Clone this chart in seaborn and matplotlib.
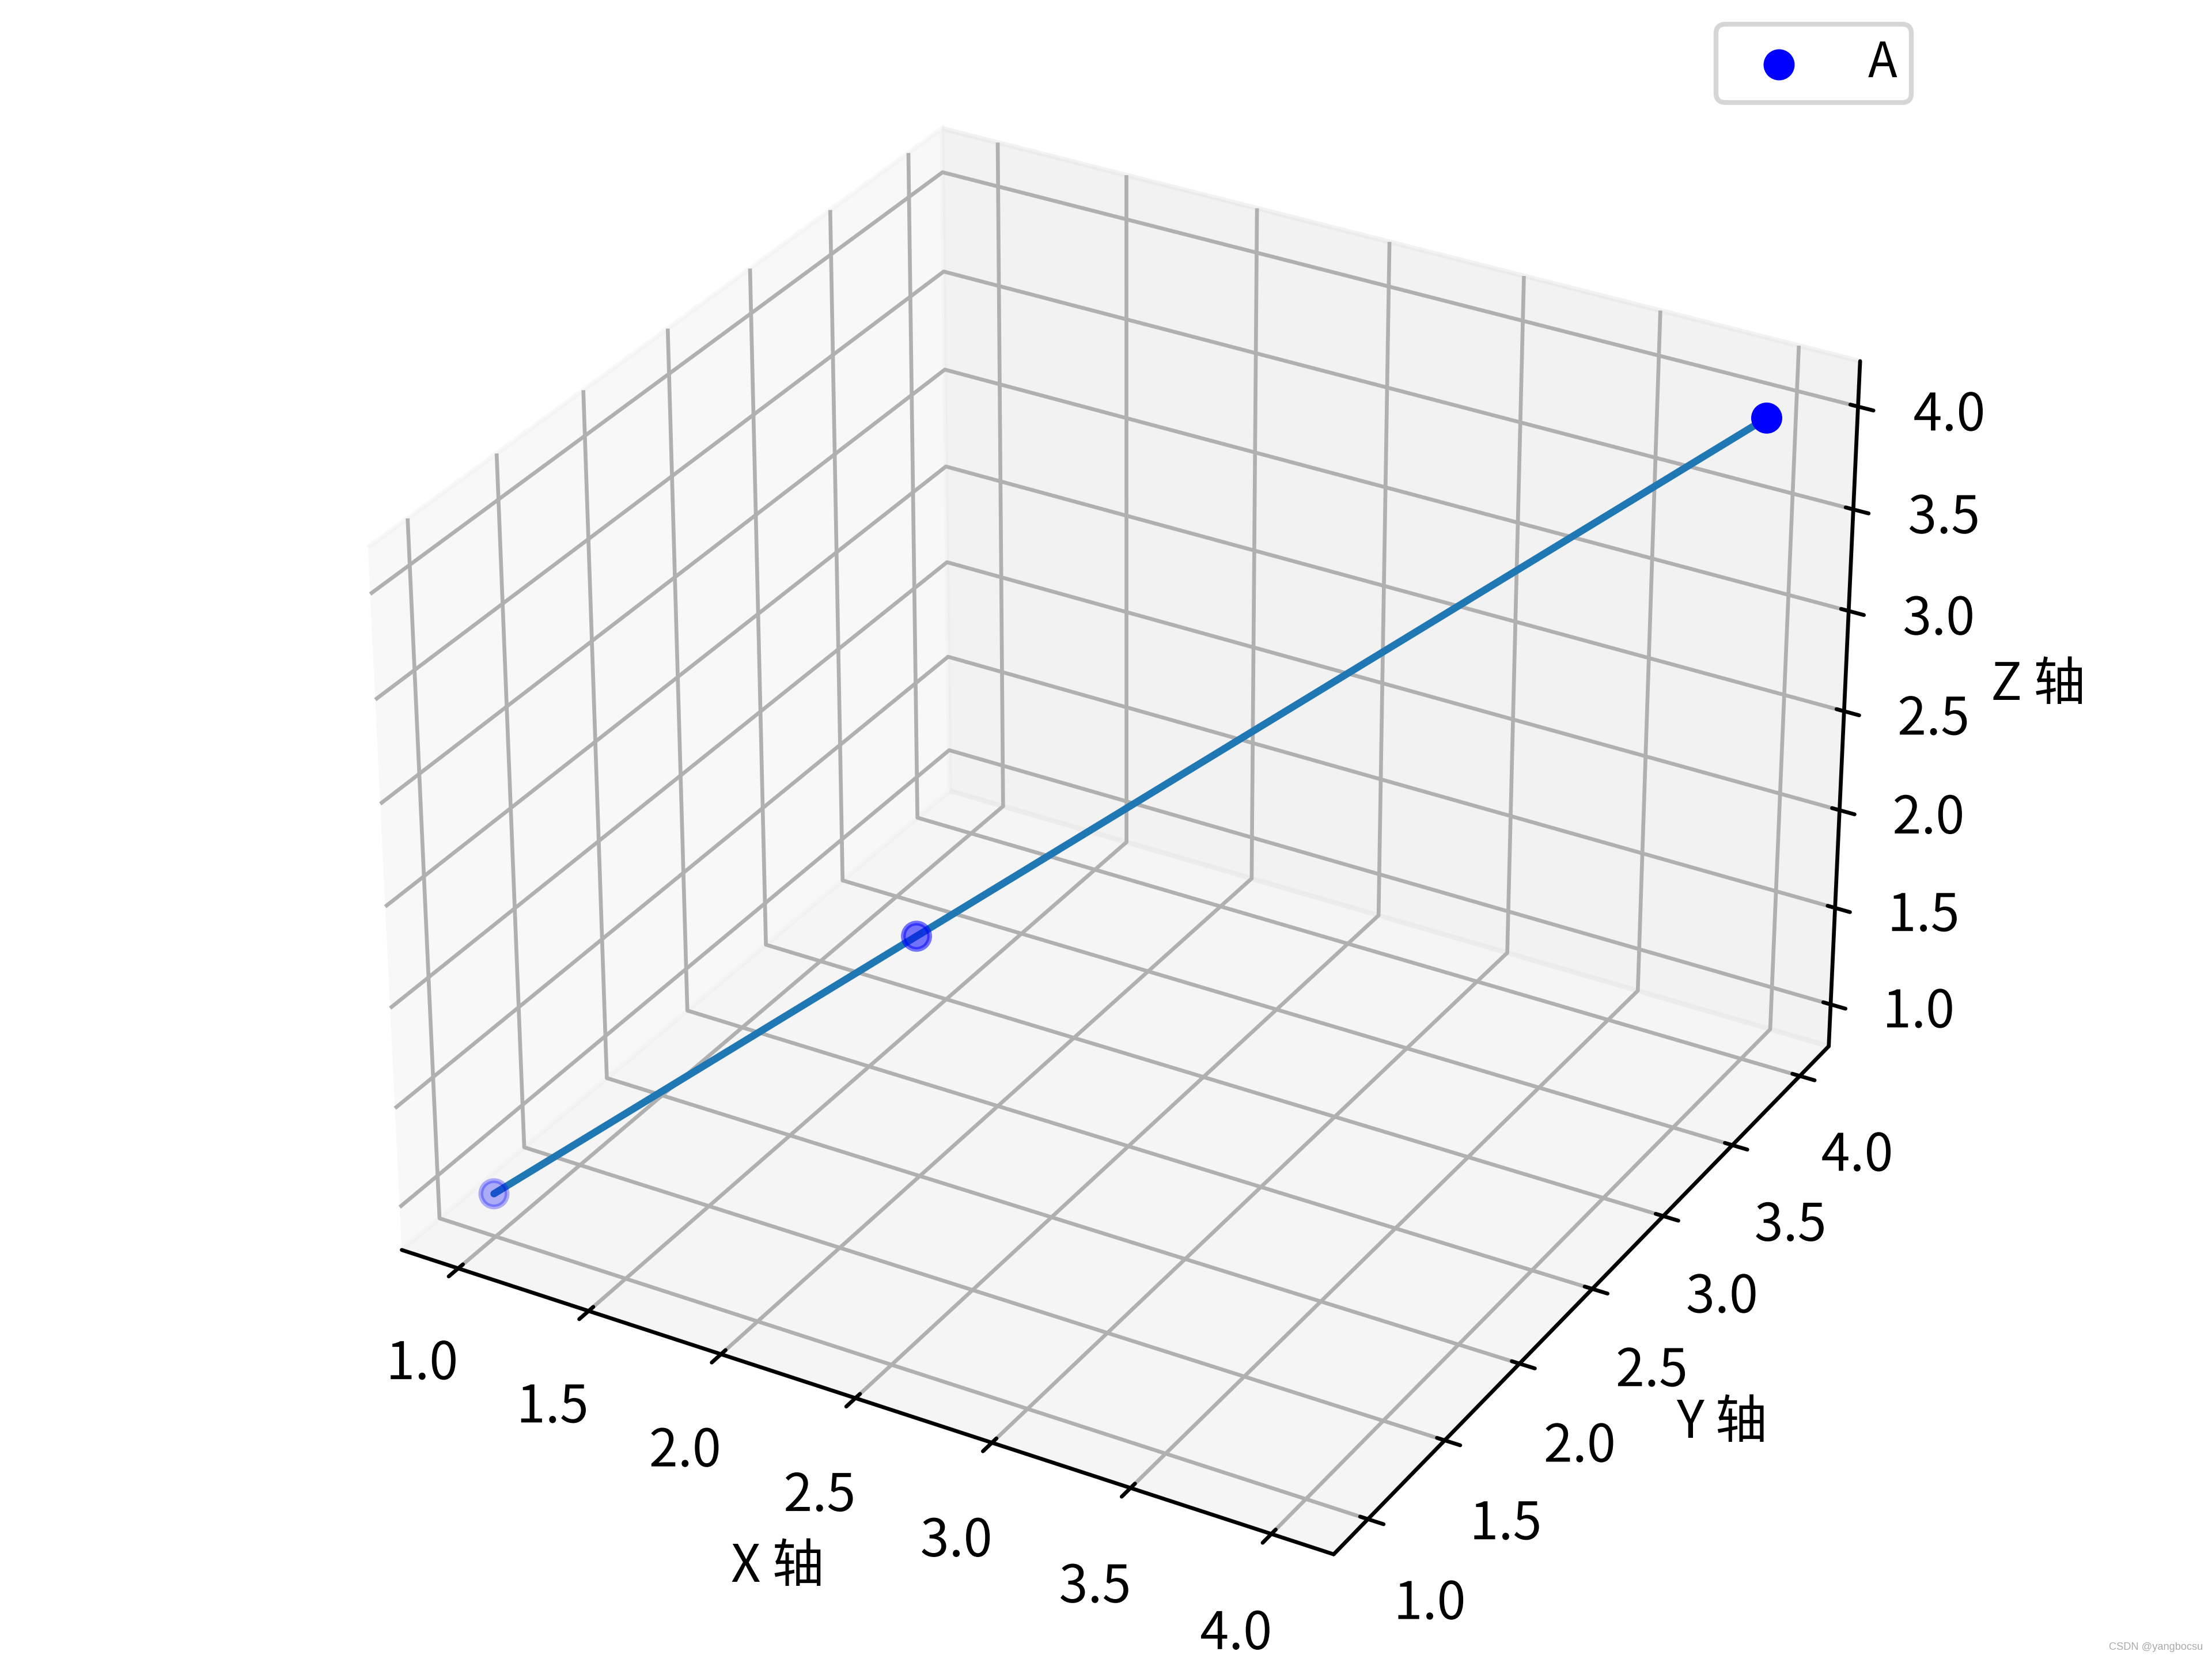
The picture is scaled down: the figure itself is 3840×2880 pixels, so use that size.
import matplotlib
matplotlib.use("Agg")
import matplotlib.pyplot as plt
import matplotlib.patheffects as pe
import seaborn as sns

sns.set_style("white", rc={"grid.color": "#b0b0b0", "text.color": "black",
                           "axes.labelcolor": "black", "xtick.color": "black",
                           "ytick.color": "black", "axes.edgecolor": "black"})
plt.rcParams['font.family'] = ['Noto Sans CJK SC', 'DejaVu Sans']
plt.rcParams['axes.unicode_minus'] = False
tick_size = 10.8

xs = [1, 2, 4]
ys = [1, 2, 4]
zs = [1, 2, 4]
series_label = "A"
xlabel = "X 轴"
ylabel = "Y 轴"
zlabel = "Z 轴"
ticks = [1.0, 1.5, 2.0, 2.5, 3.0, 3.5, 4.0]
tick_labels = ["1.0", "1.5", "2.0", "2.5", "3.0", "3.5", "4.0"]

fig = plt.figure(figsize=(6.4, 4.8), dpi=600)
ax = fig.add_subplot(111, projection='3d', computed_zorder=False)
ax.set_position([0, 0, 1, 1])
ax.plot(xs, ys, zs, color=sns.color_palette("tab10")[0], lw=1.5, zorder=2)
ax.scatter(xs, ys, zs, c='blue', s=30, label=series_label, zorder=3)
ax.set_xticks(ticks, tick_labels)
ax.set_yticks(ticks, tick_labels)
ax.set_zticks(ticks, tick_labels)
ax.tick_params(labelsize=tick_size)
lift = [pe.Stroke(linewidth=0, offset=(0, 1.2), foreground='black')]
for axis in (ax.xaxis, ax.yaxis, ax.zaxis):
    for lab in axis.get_ticklabels():
        lab.set_path_effects(lift)
ax.set_xlabel(xlabel, fontsize=tick_size)
ax.set_ylabel(ylabel, fontsize=tick_size)
ax.set_zlabel(zlabel, fontsize=tick_size)
ax.legend(loc='upper right', bbox_to_anchor=(0.875, 1.0), bbox_transform=fig.transFigure,
          borderpad=0.3, handletextpad=0.86)
fig.text(0.996, 0.0042, "CSDN @yangbocsu", ha='right', va='bottom', fontsize=2.2,
         color='#aaaaaa', family='Liberation Sans')
fig.savefig("out.png", dpi=600)
